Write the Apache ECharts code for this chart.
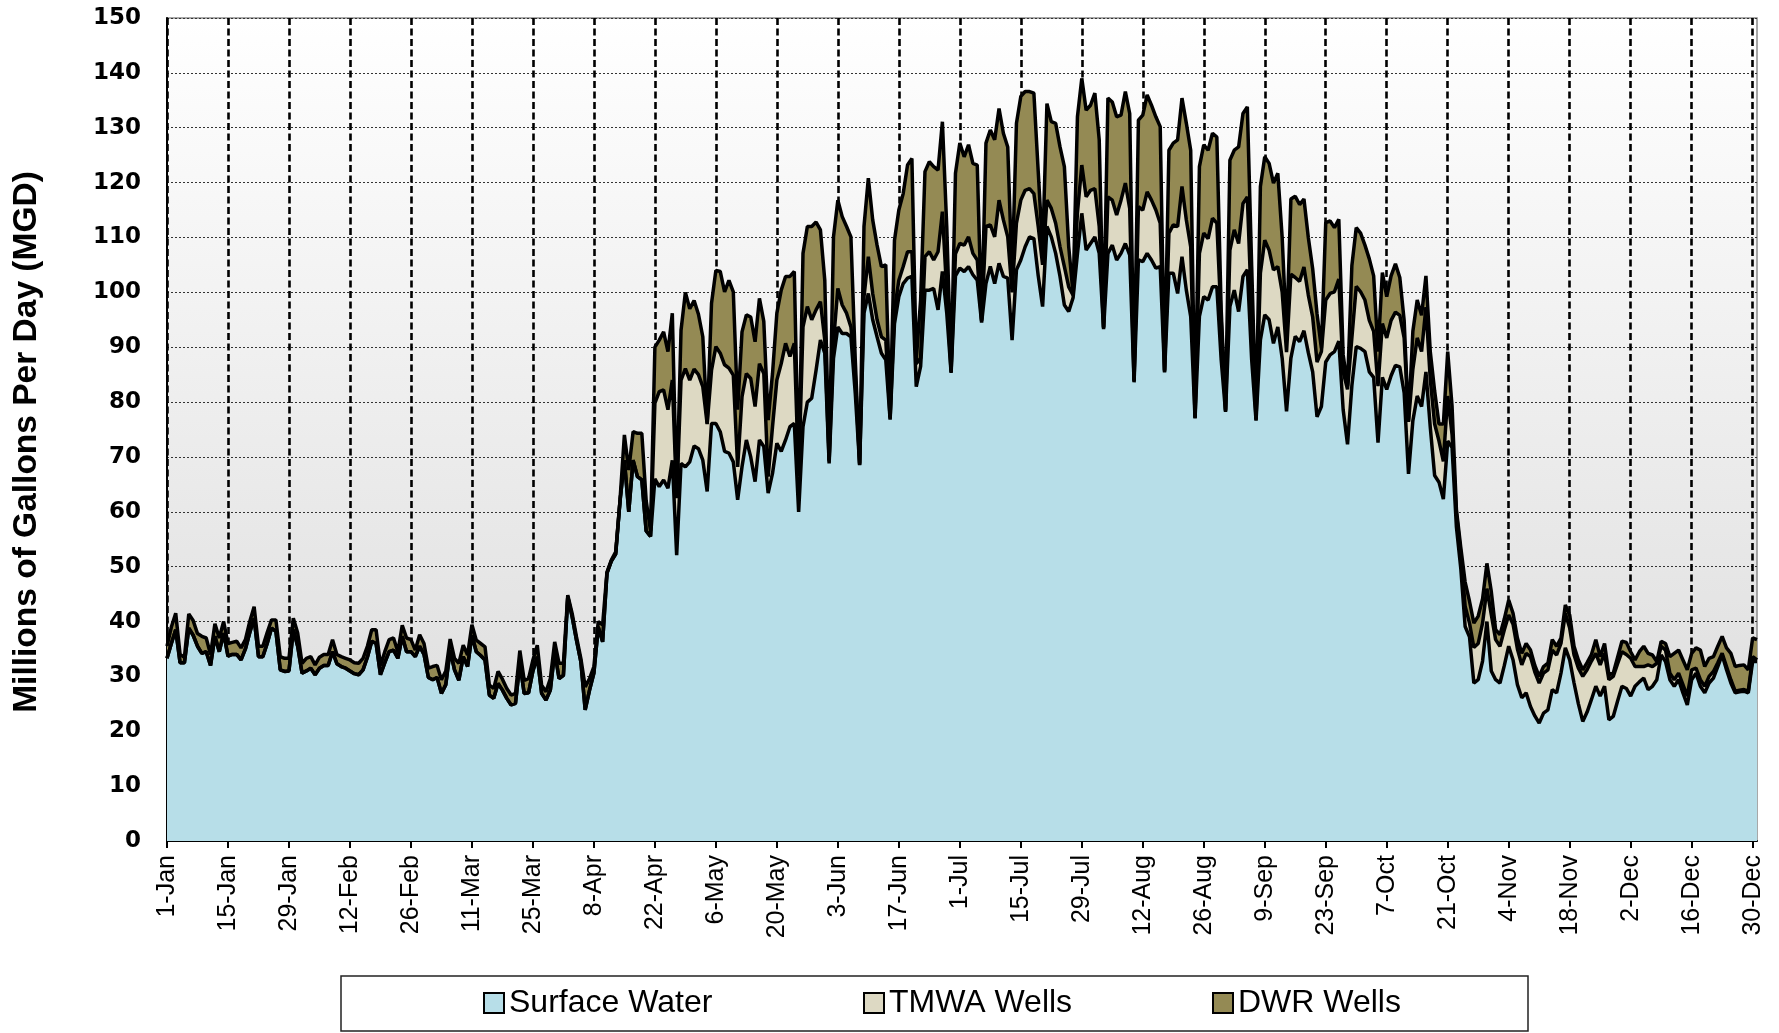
<!DOCTYPE html>
<html>
<head>
<meta charset="utf-8">
<script src="https://cdn.jsdelivr.net/npm/echarts@6/dist/echarts.min.js"></script>
<style>
html,body{margin:0;padding:0;background:#fff;}
#chart{width:1779px;height:1033px;}
</style>
</head>
<body>
<div id="chart"></div>
<script>
// ---- Data (daily, leap year, 1-Jan .. 31-Dec), Millions of Gallons Per Day ----
const monthNames = ['Jan','Feb','Mar','Apr','May','Jun','Jul','Aug','Sep','Oct','Nov','Dec'];
const monthDays = [31,29,31,30,31,30,31,31,30,31,30,31];

const surfaceWater = [
33.3,36,38.5,32.5,32.5,38.8,37.5,35.5,34.2,34.5,32,37.3,34.5,37.9,
33.7,34,34,33,35,38,40.6,33.6,33.6,36,38.8,38.2,31.2,30.9,
31,38.5,35.5,30.6,31,31.5,30.3,31.5,32,32,34.5,32.3,31.8,31.5,
31,30.5,30.3,31.2,33.5,36.4,36,30.3,32.5,34.5,34.8,33.3,37.3,34.5,
34.5,33.6,35.5,34,29.8,29.4,29.8,26.9,28.5,34.8,31.2,29.3,33.6,31.8,
37.5,34.5,33.8,33,26.6,26,28.7,27.5,26,24.8,25.1,32.4,26.9,27,
31,33.6,26.9,25.7,27.5,34.5,29.6,30.2,44.5,40.9,36.6,32.7,23.9,27.5,
30.6,39,36.3,48.8,51,52.3,62,69.4,60,69.4,66.4,65.8,56.5,55.5,
66,64.6,65.8,64.3,69.4,52.1,68.8,68.2,69.1,72,71.5,69.4,63.7,76.1,
76.1,74.6,71,70.7,69.1,62.2,68.2,73.1,70,65.5,73.1,71.9,63.4,67,
72.5,71,73.1,75.5,76.1,60,75.5,80,80.7,85.8,91.3,88.9,68.8,88,
93.7,92.5,92.5,91.9,81.6,68.5,96.2,99.8,95,91.9,88.9,87.7,76.8,94.3,
99.2,101.6,102.6,102.9,82.8,86.5,100.4,100.4,100.7,96.8,103.8,96.2,85.3,103,
104.4,103.8,104.7,103.2,102.2,94.5,101.6,104.7,101.6,105.3,102.9,102.6,91.3,104.1,
105.9,108.3,110.1,109.8,103,97.4,112,110.1,107.1,102.9,97.7,96.5,99,107,
114.4,107.7,108.9,110.1,107.1,93.3,107.1,108.6,105.9,107.1,108.9,106.8,83.6,105.9,
105.6,107.1,105.9,104.4,104.7,85.4,103.5,103.5,99.8,106.5,100.4,95.6,77,95.6,
99.2,98.6,101,101,87.7,78.2,97.4,100.4,96.5,102.9,104.1,87.7,76.6,91.3,
95.9,95,90.7,93.7,88,78.3,88,92,91,93,89,85.5,77.3,79.2,
87.3,88.6,89.2,91.1,78.6,72.3,83,90.1,89.8,89.2,85.5,84.5,72.6,84.5,
82.3,84.8,86.7,86.4,81.7,66.9,76.6,81.1,79.2,85.5,75.4,66.6,65.4,62.3,
72.9,71.7,57.2,49.7,39.1,37.2,28.8,29.4,32.8,40,31,29.4,28.8,32,
35.5,33,28.5,26.1,27,24.5,22.8,21.5,23.3,23.9,27.6,27,30.6,35.2,
33,28.8,25,21.8,23.5,25.8,28.2,26.4,28.2,22.1,22.7,25.5,28.2,27.8,
26.4,28.2,29,29.7,27.6,28.2,29.4,33.9,32.7,29.4,28.2,29.4,27,24.8,
29.4,30.6,28.2,27,28.8,29.7,31.8,33.9,31.2,28.8,27,27.2,27.3,27,
32.7,32.7
];

const tmwaWells = [
0,0,0,0,0,0,0,0,0,0,0,0,0,0,
0,0,0,0,0,0,0,0,0,0,0,0,0,0,
0,0,0,0,0,0,0,0,0,0,0,0,0,0,
0,0,0,0,0,0,0,0,0,0,0,0,0,0,
0,0,0,0,0,0,0,0,0,0,0,0,0,0,
0,0,0,0,0,0,0,0,0,0,0,0,0,0,
0,0,0,0,0,0,0,0,0,0,0,0,0,0,
0,0,0,0,0,0,0,0,0,0,0,0,0,0,
13.8,17.3,16.4,14.3,14.6,10.4,15.2,17.9,14.9,14,13.5,13.4,12.3,9.7,
14,14.3,15.8,15.5,15.8,6,12.8,12.1,14.3,13.7,13.9,13.3,3,8.5,
11.5,16,17.6,12.8,14.6,6.5,18.2,17.4,14.3,11,7,2.4,0.4,3,
7,5.2,3.7,1.8,3.4,0.1,3,6.7,4.8,3.1,3,3.6,0.2,2.5,
3,3.1,4.8,4.5,4.2,1.5,6.1,7,5.2,10.6,10.9,3.8,0.2,4,
4.5,4.8,5.4,3.9,3.7,0.3,10.4,7.6,8.5,11.5,10.3,7.5,8.7,8.5,
10.9,10.3,8.8,8.2,9,7.6,4.8,5.2,5.5,5.4,7,4.5,0.5,7.5,
8.8,9.7,9.7,8.8,4.9,0.2,10.3,8.2,8.2,9.7,11,8.5,0.2,9.7,
9.4,11.2,10.9,10.6,7.9,0.2,7.3,8.8,12.2,12.8,12.8,12.7,0.1,11.5,
11.6,11.2,12.5,11.6,7.3,0.2,10.3,11,12.4,13.3,13.3,8.3,0.2,12.2,
13.6,12.7,13.4,11,12,10.8,15.3,10.7,11,11.6,10.5,10,10,10,
11.3,11.2,10.9,11.3,6.9,10,8.7,11,10.3,9.4,9.4,8.4,10.3,9.8,
9.4,10.1,9.7,9.4,10,9.5,9.4,10.6,10,11.8,8.7,9.4,7.5,6.9,
8.2,2.4,2.5,2.8,3.7,2.5,6.5,6.6,6.9,6,10.3,7.3,6.7,6.5,
5.7,6.5,6.5,6,7.2,9.1,8,7.3,7.3,7.3,7.2,6.9,5.4,6.3,
5.8,5.1,6.5,8.2,7.7,7,6,5.7,6,7.3,7.3,6.8,6.3,6.2,
6.9,3.6,2.8,2.1,4.5,3.6,3,1.6,2.1,1.2,1.2,1.2,1.5,1.6,
1.8,0.9,1.2,1.2,1.2,1.2,0.7,0.3,0.6,0.6,0.3,0.3,0.3,0.3,
0.9,0.3
];

const dwrWells = [
2.2,3,3,1.5,1,2.6,2.7,2.3,3.1,2.5,2,2.3,2.5,2.1,
2.3,2.2,2.4,2.2,1.7,2,2.1,1.9,1.9,2,1.5,2.1,2.4,2.4,
2.3,2.1,2.4,1.8,2.3,2.1,1.8,2,2,2,2.2,1.7,1.8,1.8,
2,2,2.1,2.1,2,2.1,2.5,1.7,2,2.2,2.2,1.2,2,2.5,
2.2,1.2,2.1,2,1.7,2.4,2.2,2.5,2.5,2,2.1,3.1,2.1,2.1,
1.9,2.1,2.2,2.4,1.8,1.8,2.2,2,1.8,1.8,1.8,2.3,2.4,2.6,
2,2.1,1.5,1.5,2.1,1.8,2.8,2.2,0.3,0.6,0.6,0.6,4.2,2.1,
1.2,1,3.1,0.2,0.2,0.4,0.2,4.6,7.6,5.2,7.9,8.5,5.5,1,
10.2,9.4,10.6,10.6,12.2,0.3,9.1,13.9,13,12.5,11,9.1,0.1,12.2,
13.9,14.9,13.3,16,15.2,10.4,11.8,10.7,11.2,11.8,11.9,9.5,10.3,9.7,
12.2,13.4,12.2,14.6,13.1,0.5,13.4,14.6,17,16,13.1,10.9,0.2,19.1,
16.1,16.1,15.8,16.4,2.7,0.2,12.8,14.3,13.4,13.6,12.8,13.7,0.3,12.7,
12.8,13.3,15.8,17,0.7,10.6,15.5,16.4,17,14.9,16.4,12,0.3,14.7,
18.3,16.1,16.8,16.4,17.3,0.2,15.2,17.3,17.7,16.7,15.8,16.4,2.9,18.2,
18.9,18,17.7,18.3,10,2.7,17.6,15.8,18.2,18.2,18.2,7.3,0.3,17.5,
15.8,15.8,15.5,17.4,15.8,0.2,18,17.9,17.9,15.5,16.7,17.3,0.2,15.8,
17.3,17.7,17.3,17,17.6,0.2,15.1,14.9,15.8,16.1,17.6,17.6,0.2,15.8,
16.1,16.1,15.5,15.7,1.8,0.2,16.4,14.5,17.6,16.4,16.4,8.7,0.2,15.8,
15.2,15.8,15.8,17,10,3.1,13.7,14.8,14,12.4,10.5,8.8,8.8,0.6,
14.1,13.2,11.7,10.9,3.1,0.7,13.2,10.7,10.7,10,11.2,10.1,6.3,9.3,
7.5,8.1,8.8,6.9,3.2,0.2,6.9,6.9,6.6,5.7,5.1,6,3.1,6.8,
8.1,5.1,0.7,1,4.4,4,4.4,5,4.4,4.6,4.2,1.8,2.1,2,
2.7,2,2,2.1,1.8,1.2,1.2,1.2,1.2,1.2,1.9,1.6,1,1.5,
2.4,1.6,1.5,1.2,1.3,1.2,2.5,1.5,1.8,0.9,0.6,1.2,1.9,2.2,
1.2,1.2,2.7,3.7,2.1,2.1,0.3,0.9,1.2,3,4.8,4.2,4.5,4.8,
3,3.7,5.4,3.6,3.3,2.7,3,3.1,3.4,4.8,4.5,4.5,4.5,3.9,
3.4,3.7
];

const seriesNames = ['Surface Water','TMWA Wells','DWR Wells'];
const seriesColors = ['#B7DEE8','#DDD9C3','#948A54'];
const yTitle = 'Millions of Gallons Per Day (MGD)';

// Category labels: one per day, "D-Mon"
const days = [];
monthDays.forEach((n, m) => { for (let d = 1; d <= n; d++) days.push(d + '-' + monthNames[m]); });

const chart = echarts.init(document.getElementById('chart'), null, {renderer: 'canvas'});
const seriesData = [surfaceWater, tmwaWells, dwrWells];

const areaSeries = seriesData.map((arr, i) => ({
  name: seriesNames[i], type: 'line', stack: 'area', data: arr,
  symbol: 'none', showSymbol: false, silent: true, z: 2,
  itemStyle: {color: seriesColors[i]},
  lineStyle: {width: 0},
  areaStyle: {color: seriesColors[i], opacity: 1}
}));
const lineSeries = seriesData.map((arr, i) => ({
  name: seriesNames[i] + ' line', type: 'line', stack: 'lines', data: arr,
  symbol: 'none', showSymbol: false, silent: true, z: 3,
  lineStyle: {color: '#000', width: 3.5}
}));

const legendLefts = [483, 863, 1212];
const legends = seriesNames.map((nm, i) => ({
  data: [nm], left: legendLefts[i], top: 987, padding: 0,
  icon: 'rect', itemWidth: 20, itemHeight: 20,
  itemStyle: {borderColor: '#000', borderWidth: 2},
  textStyle: {fontFamily: 'Liberation Sans', fontSize: 32, color: '#000'},
  selectedMode: false
}));

const option = {
  animation: false,
  backgroundColor: '#fff',
  grid: {
    left: 167, right: 22, top: 18, bottom: 192,
    show: true, borderColor: '#8c8c8c', borderWidth: 1.5,
    backgroundColor: new echarts.graphic.LinearGradient(0, 0, 0, 1, [
      {offset: 0, color: '#ffffff'}, {offset: 1, color: '#dadada'}
    ])
  },
  xAxis: [{
    type: 'category', data: days, boundaryGap: false,
    axisLine: {lineStyle: {color: '#000', width: 2}},
    axisTick: {interval: 13, length: 7, lineStyle: {color: '#000', width: 2}},
    axisLabel: {interval: 13, rotate: 90, margin: 14, color: '#000',
      fontFamily: 'Liberation Sans', fontSize: 25},
    splitLine: {show: true, interval: 13, lineStyle: {color: '#000', width: 2.6, type: [7, 3.5]}}
  }, {
    type: 'category', data: days, boundaryGap: false, position: 'bottom',
    axisLine: {show: false},
    axisTick: {show: true, inside: true, interval: 13, length: 6, lineStyle: {color: '#000', width: 2}},
    axisLabel: {show: false}, splitLine: {show: false}
  }],
  yAxis: {
    type: 'value', min: 0, max: 150, interval: 10,
    axisLine: {show: true, lineStyle: {color: '#000', width: 2}},
    axisTick: {show: false},
    axisLabel: {margin: 26, color: '#000', fontFamily: 'DejaVu Sans', fontWeight: 'bold', fontSize: 23},
    splitLine: {show: true, lineStyle: {color: '#333', width: 1, type: [2, 2]}}
  },
  legend: legends,
  graphic: [
    {type: 'rect', z: -1, shape: {x: 341, y: 976, width: 1187, height: 55},
      style: {fill: '#fff', stroke: '#222', lineWidth: 1.5}},
    {type: 'text', x: 27, y: 442, rotation: Math.PI / 2,
      style: {text: yTitle, fill: '#000', fontFamily: 'Liberation Sans', fontWeight: 'bold',
        fontSize: 33.5, align: 'center', verticalAlign: 'middle'}}
  ],
  series: areaSeries.concat(lineSeries)
};
chart.setOption(option);
</script>
</body>
</html>
